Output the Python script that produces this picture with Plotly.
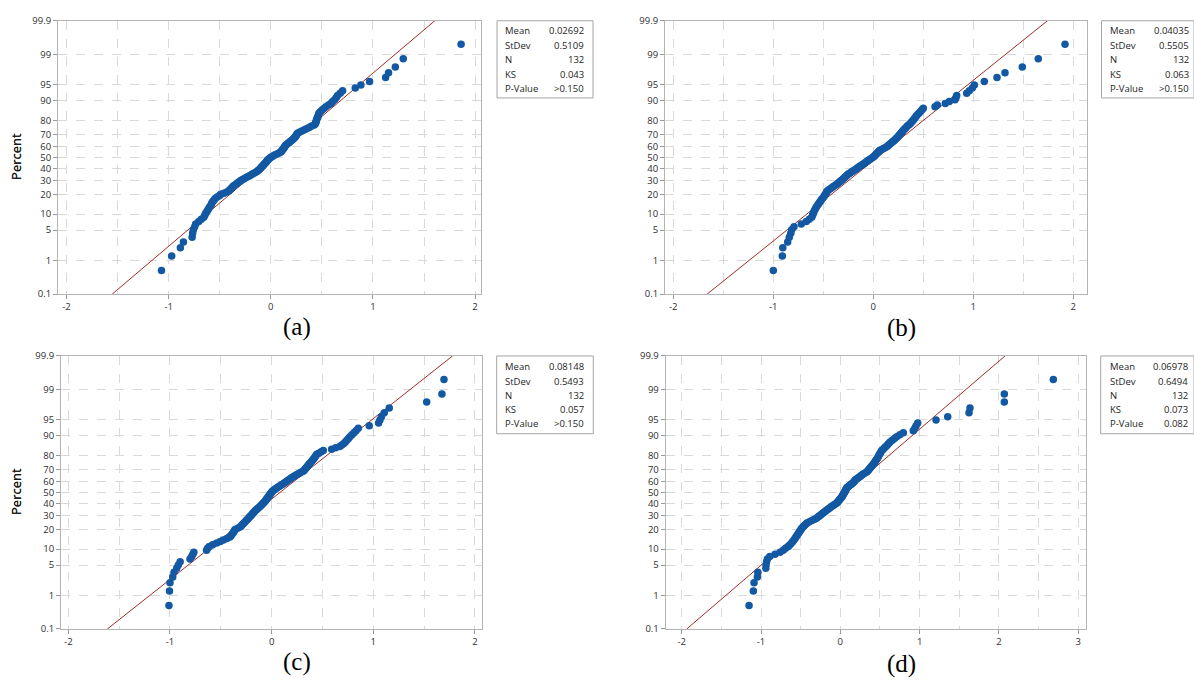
import plotly.graph_objects as go
from statistics import NormalDist

W, H = 1194, 686
nd = NormalDist()

# ---------------- data (sorted residuals) ----------------
resid_a = [
    -1.07, -0.97, -0.885, -0.855, -0.77, -0.765, -0.758, -0.745, -0.735, -0.705,
    -0.68, -0.655, -0.645, -0.637, -0.625, -0.615, -0.605, -0.595, -0.585, -0.578,
    -0.572, -0.56, -0.55, -0.539, -0.52, -0.50, -0.49, -0.46, -0.43, -0.41,
    -0.40, -0.39, -0.38, -0.37, -0.36, -0.345, -0.33, -0.32, -0.305, -0.294,
    -0.28, -0.262, -0.245, -0.229, -0.21, -0.195, -0.18, -0.165, -0.147, -0.135,
    -0.125, -0.115, -0.105, -0.098, -0.09, -0.082, -0.075, -0.068, -0.06, -0.052,
    -0.045, -0.038, -0.033, -0.025, -0.015, -0.005, 0.005, 0.02, 0.033, 0.05,
    0.07, 0.085, 0.098, 0.105, 0.112, 0.118, 0.124, 0.13, 0.136, 0.141,
    0.147, 0.158, 0.17, 0.18, 0.19, 0.20, 0.212, 0.222, 0.23, 0.24,
    0.245, 0.25, 0.256, 0.261, 0.28, 0.30, 0.32, 0.34, 0.36, 0.38,
    0.40, 0.425, 0.435, 0.44, 0.444, 0.447, 0.45, 0.455, 0.46, 0.465,
    0.47, 0.474, 0.49, 0.505, 0.523, 0.54, 0.565, 0.588, 0.605, 0.625,
    0.64, 0.654, 0.68, 0.703, 0.827, 0.882, 0.967, 1.124, 1.153, 1.219,
    1.297, 1.863,
]
resid_b = [
    -1.0, -0.91, -0.905, -0.856, -0.84, -0.825, -0.816, -0.793, -0.72, -0.67,
    -0.64, -0.616, -0.606, -0.60, -0.593, -0.585, -0.575, -0.566, -0.556, -0.545,
    -0.535, -0.525, -0.516, -0.505, -0.495, -0.487, -0.48, -0.472, -0.466, -0.46,
    -0.445, -0.43, -0.415, -0.40, -0.383, -0.37, -0.355, -0.345, -0.333, -0.322,
    -0.31, -0.30, -0.29, -0.28, -0.27, -0.26, -0.25, -0.235, -0.222, -0.21,
    -0.196, -0.183, -0.17, -0.158, -0.146, -0.134, -0.122, -0.108, -0.095, -0.083,
    -0.072, -0.06, -0.048, -0.036, -0.024, -0.012, 0.0, 0.01, 0.018, 0.026,
    0.034, 0.042, 0.05, 0.058, 0.067, 0.084, 0.10, 0.118, 0.134, 0.145,
    0.155, 0.165, 0.175, 0.186, 0.196, 0.206, 0.217, 0.226, 0.235, 0.244,
    0.252, 0.26, 0.268, 0.276, 0.284, 0.292, 0.30, 0.31, 0.32, 0.33,
    0.34, 0.353, 0.367, 0.377, 0.387, 0.397, 0.406, 0.415, 0.425, 0.434,
    0.448, 0.461, 0.474, 0.487, 0.50, 0.617, 0.64, 0.72, 0.76, 0.817,
    0.826, 0.834, 0.934, 0.96, 0.99, 1.01, 1.11, 1.237, 1.317, 1.49,
    1.65, 1.917,
]
resid_c = [
    -1.01, -1.005, -1.0, -0.973, -0.96, -0.934, -0.918, -0.90, -0.803, -0.786,
    -0.775, -0.765, -0.64, -0.63, -0.613, -0.58, -0.54, -0.505, -0.475, -0.44,
    -0.41, -0.40, -0.39, -0.38, -0.372, -0.365, -0.36, -0.335, -0.311, -0.30,
    -0.29, -0.28, -0.27, -0.26, -0.25, -0.24, -0.23, -0.222, -0.213, -0.205,
    -0.196, -0.188, -0.18, -0.172, -0.164, -0.155, -0.145, -0.135, -0.125, -0.115,
    -0.107, -0.098, -0.09, -0.082, -0.073, -0.065, -0.059, -0.053, -0.047, -0.041,
    -0.035, -0.029, -0.023, -0.017, -0.011, -0.005, 0.001, 0.008, 0.016, 0.028,
    0.04, 0.052, 0.064, 0.077, 0.09, 0.102, 0.115, 0.128, 0.14, 0.152,
    0.164, 0.176, 0.188, 0.20, 0.213, 0.228, 0.244, 0.26, 0.276, 0.293,
    0.311, 0.32, 0.328, 0.336, 0.344, 0.352, 0.36, 0.368, 0.376, 0.385,
    0.394, 0.403, 0.412, 0.42, 0.428, 0.436, 0.443, 0.465, 0.487, 0.508,
    0.59, 0.63, 0.67, 0.69, 0.71, 0.725, 0.74, 0.755, 0.77, 0.79,
    0.81, 0.83, 0.852, 0.96, 1.052, 1.065, 1.08, 1.108, 1.157, 1.525,
    1.675, 1.695,
]
resid_d = [
    -1.151, -1.097, -1.088, -1.046, -1.04, -0.94, -0.937, -0.93, -0.92, -0.89,
    -0.823, -0.76, -0.72, -0.69, -0.655, -0.635, -0.615, -0.60, -0.585, -0.571,
    -0.56, -0.548, -0.537, -0.526, -0.515, -0.505, -0.496, -0.487, -0.472, -0.458,
    -0.444, -0.43, -0.416, -0.39, -0.36, -0.333, -0.306, -0.29, -0.275, -0.26,
    -0.245, -0.23, -0.215, -0.20, -0.186, -0.171, -0.155, -0.14, -0.125, -0.11,
    -0.095, -0.08, -0.062, -0.045, -0.035, -0.026, -0.017, -0.008, 0.0, 0.009,
    0.018, 0.024, 0.03, 0.036, 0.042, 0.048, 0.054, 0.06, 0.065, 0.07,
    0.076, 0.081, 0.094, 0.107, 0.12, 0.133, 0.146, 0.159, 0.172, 0.178,
    0.185, 0.20, 0.215, 0.23, 0.245, 0.26, 0.275, 0.29, 0.31, 0.333,
    0.343, 0.353, 0.363, 0.373, 0.383, 0.394, 0.405, 0.416, 0.425, 0.434,
    0.443, 0.452, 0.461, 0.47, 0.478, 0.486, 0.494, 0.503, 0.512, 0.522,
    0.54, 0.558, 0.575, 0.593, 0.61, 0.627, 0.655, 0.683, 0.711, 0.75,
    0.794, 0.92, 0.94, 0.955, 0.976, 1.207, 1.354, 1.623, 1.635, 2.068,
    2.068, 2.686,
]

means = [0.02692, 0.04035, 0.08148, 0.06978]
stdevs = [0.5109, 0.5505, 0.5493, 0.6494]
mean_text = ["0.02692", "0.04035", "0.08148", "0.06978"]
stdev_text = ["0.5109", "0.5505", "0.5493", "0.6494"]
n_text = ["132", "132", "132", "132"]
ks_text = ["0.043", "0.063", "0.057", "0.073"]
pval_text = [">0.150", ">0.150", ">0.150", "0.082"]
captions = ["(a)", "(b)", "(c)", "(d)"]
stat_labels = ["Mean", "StDev", "N", "KS", "P-Value"]

pct_ticks = [0.1, 1, 5, 10, 20, 30, 40, 50, 60, 70, 80, 90, 95, 99, 99.9]
pct_labels = ["0.1", "1", "5", "10", "20", "30", "40", "50", "60", "70", "80", "90", "95", "99", "99.9"]
x_ticks = [[-2, -1, 0, 1, 2], [-2, -1, 0, 1, 2], [-2, -1, 0, 1, 2], [-2, -1, 0, 1, 2, 3]]

# ---------------- layout geometry (pixels) ----------------
panels = [
    dict(x0=58, x1=481, y0=14, y1=292.6, xr=[-2.083, 2.058]),
    dict(x0=665, x1=1087.3, y0=14, y1=292.6, xr=[-2.083, 2.14]),
    dict(x0=61, x1=482.3, y0=355.7, y1=634, xr=[-2.072, 2.072]),
    dict(x0=665.7, x1=1086, y0=355.7, y1=634, xr=[-2.202, 3.098]),
]
boxes = [
    dict(x0=497, x1=593, y0=14, y1=92.7, lx=503, rx=586, rows=[24, 39.5, 54, 68.5, 83]),
    dict(x0=1101.5, x1=1194, y0=14, y1=92.7, lx=1108, rx=1191, rows=[24, 39.5, 54, 68.5, 83]),
    dict(x0=496.7, x1=593.3, y0=355.7, y1=435, lx=503, rx=586, rows=[366, 381.5, 395.5, 410.5, 425]),
    dict(x0=1100.7, x1=1194, y0=355.7, y1=435, lx=1107.7, rx=1190, rows=[366, 381.5, 395.5, 410.5, 425]),
]
cap_pos = [(297, 326), (901, 327), (297, 668), (901, 670)]


def px(x):
    return x / W


def py(y):
    return 1 - y / H


zmax = nd.inv_cdf(0.999)
yt = [nd.inv_cdf(p / 100) for p in pct_ticks]

fig = go.Figure()
shapes = []
annotations = []
tick_font = dict(family="Open Sans, Arial, sans-serif", size=9.5, color="#2e2e2e")
grid_col = "#d9d9d9"
line_col = "#b4b4b4"

all_data = [resid_a, resid_b, resid_c, resid_d]
for k, data in enumerate(all_data):
    n = len(data)
    xs = sorted(data)
    zs = [nd.inv_cdf((i + 1 - 0.3) / (n + 0.4)) for i in range(n)]
    ax = "" if k == 0 else str(k + 1)
    xa, ya = "x" + ax, "y" + ax

    # fitted normal reference line
    fig.add_trace(go.Scatter(
        x=[means[k] + stdevs[k] * (-zmax), means[k] + stdevs[k] * zmax],
        y=[-zmax, zmax], mode="lines",
        line=dict(color="#a02c2a", width=1), xaxis=xa, yaxis=ya, hoverinfo="skip"))
    fig.add_trace(go.Scatter(
        x=xs, y=zs, mode="markers",
        marker=dict(color="#1358a2", size=7.5, line=dict(width=0)),
        xaxis=xa, yaxis=ya))

    p = panels[k]
    xaxis = dict(
        domain=[px(p["x0"]), px(p["x1"])], anchor=ya, range=p["xr"],
        tickmode="array", tickvals=x_ticks[k], ticktext=[str(v) for v in x_ticks[k]],
        showgrid=True, gridcolor=grid_col, griddash="dash", gridwidth=1,
        minor=dict(tickmode="linear", tick0=-2.5, dtick=1, showgrid=True,
                   gridcolor=grid_col, griddash="dash", gridwidth=1, ticks=""),
        showline=True, linecolor=line_col, linewidth=1, mirror=True,
        ticks="outside", ticklen=4, tickcolor="#9a9a9a",
        tickfont=tick_font, zeroline=False, fixedrange=True,
    )
    yaxis = dict(
        domain=[py(p["y1"]), py(p["y0"])], anchor=xa, range=[-zmax, zmax],
        tickmode="array", tickvals=yt, ticktext=pct_labels,
        showgrid=True, gridcolor=grid_col, griddash="dash", gridwidth=1,
        showline=True, linecolor=line_col, linewidth=1, mirror=True,
        ticks="outside", ticklen=4, tickcolor="#9a9a9a",
        tickfont=tick_font, zeroline=False, fixedrange=True,
    )
    fig.layout["xaxis" + ax] = xaxis
    fig.layout["yaxis" + ax] = yaxis

    # y-axis title
    annotations.append(dict(
        x=px(16), y=py((p["y0"] + p["y1"]) / 2 - 0.5), xref="paper", yref="paper",
        text="Percent", textangle=-90, showarrow=False,
        font=dict(family="Open Sans, Arial, sans-serif", size=13, color="#1a1a1a"),
        xanchor="center", yanchor="middle"))

    # caption
    cx, cy = cap_pos[k]
    annotations.append(dict(
        x=px(cx), y=py(cy), xref="paper", yref="paper", text=captions[k],
        showarrow=False, xanchor="center", yanchor="middle",
        font=dict(family="Liberation Serif, Times New Roman, serif", size=25, color="#000000")))

    # statistics box
    b = boxes[k]
    shapes.append(dict(type="rect", xref="paper", yref="paper",
                       x0=px(b["x0"]), x1=px(b["x1"]), y0=py(b["y1"]), y1=py(b["y0"]),
                       line=dict(color="#a6a6a6", width=1), fillcolor="white", layer="below"))
    vals = [mean_text[k], stdev_text[k], n_text[k], ks_text[k], pval_text[k]]
    sfont = dict(family="Open Sans, Arial, sans-serif", size=9.5, color="#1e1e1e")
    for lab, val, ry in zip(stat_labels, vals, b["rows"]):
        annotations.append(dict(x=px(b["lx"]), y=py(ry), xref="paper", yref="paper",
                                text=lab, showarrow=False, xanchor="left", yanchor="middle",
                                font=sfont))
        annotations.append(dict(x=px(b["rx"]), y=py(ry), xref="paper", yref="paper",
                                text=val, showarrow=False, xanchor="right", yanchor="middle",
                                font=sfont))

fig.update_layout(
    width=W, height=H, margin=dict(l=0, r=0, t=0, b=0, pad=0),
    paper_bgcolor="white", plot_bgcolor="white", showlegend=False,
    shapes=shapes, annotations=annotations,
)

fig.write_html("out.html")
